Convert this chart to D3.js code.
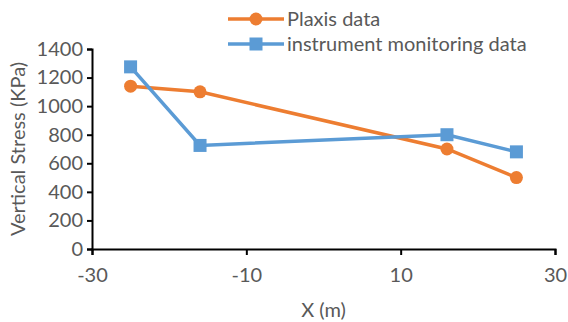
<!DOCTYPE html>
<html>
<head>
<meta charset="utf-8">
<script src="https://cdn.jsdelivr.net/npm/d3@7"></script>
<style>
  body { margin: 0; background: #fff; }
  svg text { font-family: Lato, "Open Sans", sans-serif; fill: #595959; }
</style>
</head>
<body>
<svg id="chart" width="568" height="322"></svg>
<script>
// data
const xPlaxis = [-25, -16, 16, 25];
const yPlaxis = [1140, 1100, 700, 500];
const xInstrument = [-25, -16, 16, 25];
const yInstrument = [1275, 725, 800, 680];
const xTicks = [-30, -10, 10, 30];
const yTicks = [0, 200, 400, 600, 800, 1000, 1200, 1400];
const seriesNames = ["Plaxis data", "instrument monitoring data"];
const seriesColors = ["#ED7D31", "#5B9BD5"];

const svg = d3.select("#chart");
const margin = { left: 92, right: 13, top: 49, bottom: 73 };
const width = 568, height = 322;
const fontSize = 20;

const x = d3.scaleLinear().domain([-30, 30]).range([margin.left, width - margin.right]);
const y = d3.scaleLinear().domain([0, 1400]).range([height - margin.bottom, margin.top]);

// plain integers, ascii hyphen for negatives
const fmt = (v) => String(v);

// axes
const gx = svg.append("g")
  .attr("transform", "translate(0," + y(0) + ")")
  .call(d3.axisBottom(x).tickValues(xTicks).tickFormat(fmt).tickSize(6).tickPadding(13));
const gy = svg.append("g")
  .attr("transform", "translate(" + x(-30) + ",0)")
  .call(d3.axisLeft(y).tickValues(yTicks).tickFormat(fmt).tickSize(5).tickPadding(4));

[gx, gy].forEach((g) => {
  g.attr("font-size", fontSize).attr("font-family", null);
  g.select(".domain").attr("stroke", "#000").attr("stroke-width", 2);
  g.selectAll(".tick line").attr("stroke", "#000").attr("stroke-width", 2);
  g.selectAll(".tick text").attr("fill", "#595959");
});

// axis titles
svg.append("text")
  .attr("x", (x(-30) + x(30)) / 2)
  .attr("y", 317)
  .attr("text-anchor", "middle")
  .attr("font-size", fontSize)
  .text("X (m)");
svg.append("text")
  .attr("transform", "translate(25," + ((y(0) + y(1400)) / 2) + ") rotate(-90)")
  .attr("text-anchor", "middle")
  .attr("font-size", fontSize)
  .text("Vertical Stress (KPa)");

// series
const series = [
  { name: seriesNames[0], color: seriesColors[0], pts: xPlaxis.map((v, i) => [v, yPlaxis[i]]), shape: "circle" },
  { name: seriesNames[1], color: seriesColors[1], pts: xInstrument.map((v, i) => [v, yInstrument[i]]), shape: "square" },
];

const line = d3.line().x((d) => x(d[0])).y((d) => y(d[1]));

function marker(g, shape, color, cx, cy) {
  if (shape === "circle") {
    g.append("circle").attr("cx", cx).attr("cy", cy).attr("r", 6.5).attr("fill", color);
  } else {
    g.append("rect").attr("x", cx - 6.5).attr("y", cy - 6.5).attr("width", 13).attr("height", 13).attr("fill", color);
  }
}

series.forEach((s) => {
  const g = svg.append("g");
  g.append("path")
    .attr("d", line(s.pts))
    .attr("fill", "none")
    .attr("stroke", s.color)
    .attr("stroke-width", 3.5);
  s.pts.forEach((p) => marker(g, s.shape, s.color, x(p[0]), y(p[1])));
});

// legend
const legend = svg.append("g").attr("transform", "translate(228,19)");
series.forEach((s, i) => {
  const row = legend.append("g").attr("transform", "translate(0," + (i * 25) + ")");
  row.append("line").attr("x1", 0).attr("x2", 56).attr("y1", 0).attr("y2", 0)
    .attr("stroke", s.color).attr("stroke-width", 3.5);
  marker(row, s.shape, s.color, 28, 0);
  row.append("text").attr("x", 59).attr("y", 0).attr("dy", "0.35em")
    .attr("font-size", fontSize).text(s.name);
});
</script>
</body>
</html>
